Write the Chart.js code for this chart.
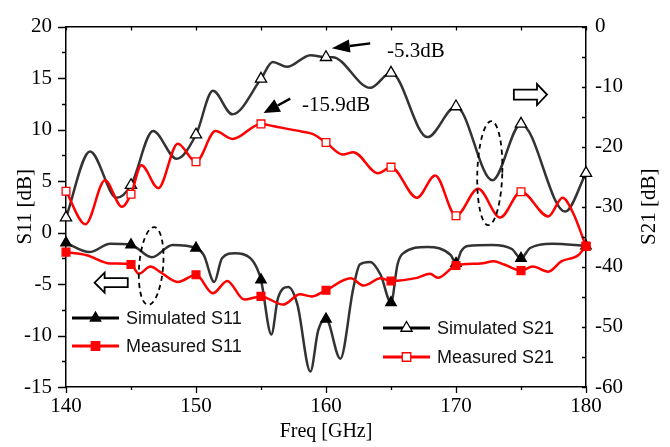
<!DOCTYPE html>
<html>
<head>
<meta charset="utf-8">
<script src="https://cdn.jsdelivr.net/npm/chart.js@4.4.1/dist/chart.umd.min.js"></script>
<style>
  html, body { margin: 0; padding: 0; background: #fff; }
  #wrap { width: 670px; height: 447px; }
</style>
</head>
<body>
<div id="wrap"><canvas id="c" width="670" height="447"></canvas></div>
<script>
// tick positions
const freqTicks = [140, 145, 150, 155, 160, 165, 170, 175, 180];
const s11Ticks = [-15, -12.5, -10, -7.5, -5, -2.5, 0, 2.5, 5, 7.5, 10, 12.5, 15, 17.5, 20];
const s21Ticks = [-60, -55, -50, -45, -40, -35, -30, -25, -20, -15, -10, -5, 0];

// Simulated S11 (left axis, dB)
const simS11Freq = [140, 141.8, 143.4, 145, 146.6, 148.2, 150, 150.6, 151.4, 152.0, 153.0, 154.2, 154.7, 155,
  155.8, 156.3, 157.1, 157.8, 158.8, 159.4, 160, 161.1, 162.1, 162.6, 163.4, 164.2, 165, 165.5, 165.9,
  167.8, 169.6, 170, 170.4, 170.9, 172.8, 174.3, 175, 175.7, 177.4, 180];
const simS11 = [-1.0, -1.9, -1.1, -1.2, -2.4, -1.2, -1.5, -2.2, -4.8, -2.5, -2.0, -2.5, -3.5, -4.6,
  -9.9, -6.4, -5.3, -7.0, -13.5, -9.5, -8.4, -12.25, -5.4, -3.1, -2.85, -4.1, -6.8, -3.1, -2.05,
  -1.4, -2.2, -3.0, -1.8, -1.3, -1.2, -1.6, -2.5, -1.5, -1.1, -1.3];

// Measured S11 (left axis, dB)
const measS11Freq = [140, 141.6, 143.4, 145, 145.6, 146.5, 147.2, 148.6, 150, 151.3, 152.4, 153.7, 155,
  156.7, 158, 158.9, 160, 161.9, 162.9, 164.2, 165, 167, 168, 168.6, 170, 171.9, 172.9, 173.7, 175,
  175.9, 177.1, 178.1, 179.4, 180];
const measS11 = [-1.9, -2.2, -3.0, -3.1, -4.0, -3.3, -3.8, -4.8, -4.1, -5.9, -4.7, -6.5, -6.2,
  -7.0, -6.0, -6.2, -5.6, -4.45, -5.15, -4.45, -4.7, -4.4, -4.0, -4.4, -3.2, -3.0, -2.8, -3.1, -3.7,
  -3.3, -3.8, -2.8, -2.2, -1.3];

// Simulated S21 (right axis, dB)
const simS21Freq = [140, 141.85, 143.9, 145, 146.7, 148.5, 150, 151.3, 152.8, 155, 155.9, 157, 158.8,
  160, 160.5, 163.4, 165, 167.8, 170, 172.8, 175, 178.4, 180];
const simS21 = [-31.8, -20.8, -28.5, -26.4, -17.4, -22.0, -18.0, -10.7, -14.6, -8.7, -5.9, -6.7, -4.75,
  -5.1, -5.1, -10.2, -7.7, -18.4, -13.3, -25.6, -16.2, -30.8, -24.4];

// Measured S21 (right axis, dB)
const measS21Freq = [140, 141.5, 143, 144.3, 145, 145.8, 147.1, 148.6, 150, 151.5, 152.8, 155, 156,
  158.2, 159, 160, 161.3, 162.1, 164, 165, 167, 168.4, 170, 171.7, 173.4, 175, 177.1, 178.2, 179, 180];
const measS21 = [-27.4, -32.9, -25.6, -30.0, -27.9, -23.1, -26.9, -19.5, -22.5, -17.4, -18.7, -16.2, -16.6,
  -17.5, -17.9, -19.3, -21.3, -20.9, -24.4, -23.4, -28.5, -24.8, -31.5, -27.0, -31.8, -27.5, -31.6, -28.5, -31.0, -36.6];

const BLACK = '#333333';
const RED = '#ff0000';
const SERIF = '"Liberation Serif", "Times New Roman", serif';
const SANS = '"Liberation Sans", Arial, sans-serif';

function pts(xs, ys) {
  return xs.map((x, i) => ({ x: x, y: ys[i] }));
}

// markers only every 5 GHz
const markerRadius = r => ctx => (ctx.raw && Math.abs(ctx.raw.x % 5) < 1e-6 ? r : 0);

function series(label, xs, ys, axis, color, style, fill, r) {
  return {
    label: label,
    data: pts(xs, ys),
    yAxisID: axis,
    borderColor: color,
    borderWidth: 2.5,
    pointStyle: style,
    pointBackgroundColor: fill,
    pointBorderColor: color === BLACK ? '#000' : color,
    pointBorderWidth: 1.3,
    pointRadius: markerRadius(r),
    pointHoverRadius: markerRadius(r),
    cubicInterpolationMode: 'monotone',
    fill: false,
    clip: false
  };
}

function marker(c, style, x, y, r, fill, stroke) {
  c.beginPath();
  if (style === 'triangle') {
    for (let k = 0; k < 3; k++) {
      const ang = k * 2 * Math.PI / 3;
      const px = x + Math.sin(ang) * r, py = y - Math.cos(ang) * r;
      if (k === 0) c.moveTo(px, py); else c.lineTo(px, py);
    }
    c.closePath();
  } else {
    const s = r * Math.SQRT1_2;
    c.rect(x - s, y - s, 2 * s, 2 * s);
  }
  c.fillStyle = fill; c.fill();
  c.lineWidth = 1.3; c.strokeStyle = stroke; c.stroke();
}

function filledArrow(c, tx, ty, fx, fy, len, half) {
  const ang = Math.atan2(ty - fy, tx - fx);
  const bx = tx - Math.cos(ang) * len, by = ty - Math.sin(ang) * len;
  c.lineWidth = 2.5; c.strokeStyle = '#000';
  c.beginPath(); c.moveTo(fx, fy); c.lineTo(bx, by); c.stroke();
  c.beginPath();
  c.moveTo(tx, ty);
  c.lineTo(bx + Math.sin(ang) * half, by - Math.cos(ang) * half);
  c.lineTo(bx - Math.sin(ang) * half, by + Math.cos(ang) * half);
  c.closePath();
  c.fillStyle = '#000'; c.fill();
}

function hollowArrow(c, tail, tip, cy, shaft, head) {
  const dir = tip > tail ? 1 : -1;
  const hb = tip - dir * 10;
  c.beginPath();
  c.moveTo(tail, cy - shaft); c.lineTo(hb, cy - shaft); c.lineTo(hb, cy - head);
  c.lineTo(tip, cy); c.lineTo(hb, cy + head); c.lineTo(hb, cy + shaft); c.lineTo(tail, cy + shaft);
  c.closePath();
  c.fillStyle = '#fff'; c.fill();
  c.lineWidth = 1.8; c.strokeStyle = '#000'; c.stroke();
}

const decorations = {
  id: 'decorations',
  afterDraw(chart) {
    const c = chart.ctx, a = chart.chartArea;
    const sx = chart.scales.x, sy = chart.scales.y, sy2 = chart.scales.y2;
    c.save();

    // tick marks
    c.strokeStyle = '#000'; c.lineWidth = 1.3;
    c.beginPath();
    s11Ticks.forEach(v => {
      const py = Math.round(sy.getPixelForValue(v)) + 0.5;
      const len = v % 5 === 0 ? 8 : 4;
      c.moveTo(a.left - len, py); c.lineTo(a.left, py);
    });
    s21Ticks.forEach(v => {
      const py = Math.round(sy2.getPixelForValue(v)) + 0.5;
      c.moveTo(a.right - 4, py); c.lineTo(a.right, py);
    });
    freqTicks.forEach(v => {
      const px = Math.round(sx.getPixelForValue(v)) + 0.5;
      const len = v % 10 === 0 ? 6 : 3;
      c.moveTo(px, a.bottom); c.lineTo(px, a.bottom + len);
      c.moveTo(px, a.top); c.lineTo(px, a.top + 4);
    });
    c.stroke();

    // vertical axis titles
    c.fillStyle = '#000';
    c.font = '21px ' + SERIF;
    c.textAlign = 'center'; c.textBaseline = 'alphabetic';
    const midY = (a.top + a.bottom) / 2;
    [['S11 [dB]', 31], ['S21 [dB]', 655]].forEach(([t, bx]) => {
      c.save(); c.translate(bx, midY); c.rotate(-Math.PI / 2); c.fillText(t, 0, 0); c.restore();
    });

    // dashed ellipses
    c.setLineDash([5, 4]); c.lineWidth = 1.8; c.strokeStyle = '#000';
    c.beginPath();
    c.ellipse(sx.getPixelForValue(146.55), sy.getPixelForValue(-3.25), 12, 39, 0.08, 0, 2 * Math.PI);
    c.stroke();
    c.beginPath();
    c.ellipse(sx.getPixelForValue(172.6), sy2.getPixelForValue(-24.4), 12.5, 52, 0.03, 0, 2 * Math.PI);
    c.stroke();
    c.setLineDash([]);

    // arrows
    filledArrow(c, sx.getPixelForValue(160.45), sy.getPixelForValue(17.9),
      sx.getPixelForValue(163.4), sy.getPixelForValue(18.37), 18, 6.5);
    filledArrow(c, sx.getPixelForValue(155.2), sy.getPixelForValue(11.6),
      sx.getPixelForValue(157.25), sy.getPixelForValue(13.0), 16, 7);
    hollowArrow(c, sx.getPixelForValue(174.45), sx.getPixelForValue(177.0), sy.getPixelForValue(13.4), 5, 10.5);
    hollowArrow(c, sx.getPixelForValue(144.75), sx.getPixelForValue(142.2), sy.getPixelForValue(-4.87), 4.5, 10);

    // annotation text
    c.fillStyle = '#000';
    c.font = '21px ' + SERIF;
    c.textAlign = 'left'; c.textBaseline = 'alphabetic';
    c.fillText('-5.3dB', sx.getPixelForValue(164.7), sy.getPixelForValue(17.05));
    c.fillText('-15.9dB', sx.getPixelForValue(158.15), sy.getPixelForValue(11.8));

    // legends
    const items = [
      ['Simulated S11', 72, 119, 318, '#000', 'triangle', '#000', 6],
      ['Measured S11', 72, 119, 346, RED, 'rect', RED, 6],
      ['Simulated S21', 383, 430, 328, '#000', 'triangle', '#fff', 6.5],
      ['Measured S21', 383, 430, 357, RED, 'rect', '#fff', 6]
    ];
    c.font = '18px ' + SANS;
    items.forEach(([t, x0, x1, ly, col, st, fillc, r]) => {
      c.strokeStyle = col; c.lineWidth = 3;
      c.beginPath(); c.moveTo(x0, ly); c.lineTo(x1, ly); c.stroke();
      marker(c, st, (x0 + x1) / 2, ly, r, fillc, col);
      c.fillStyle = '#111';
      c.textBaseline = 'middle';
      c.fillText(t, x1 + 7, ly + 1);
    });
    c.restore();
  }
};

const tickFont = { family: SERIF, size: 21 };
const axisBorder = { display: true, color: '#000', width: 1.5 };

new Chart(document.getElementById('c'), {
  type: 'line',
  data: {
    datasets: [
      series('Measured S11', measS11Freq, measS11, 'y', RED, 'rect', RED, 5.5),
      series('Measured S21', measS21Freq, measS21, 'y2', RED, 'rect', '#fff', 5.5),
      series('Simulated S11', simS11Freq, simS11, 'y', BLACK, 'triangle', '#000', 6),
      series('Simulated S21', simS21Freq, simS21, 'y2', BLACK, 'triangle', '#fff', 6.5)
    ]
  },
  options: {
    responsive: false,
    animation: false,
    events: [],
    layout: { padding: { top: 21, left: 0, right: 0, bottom: 0 } },
    plugins: { legend: { display: false }, tooltip: { enabled: false } },
    scales: {
      x: {
        type: 'linear', position: 'bottom', min: 140, max: 180,
        ticks: { stepSize: 10, font: tickFont, color: '#000', padding: 7, maxRotation: 0 },
        grid: { display: false, drawTicks: false },
        border: axisBorder,
        title: { display: true, text: 'Freq [GHz]', font: { family: SERIF, size: 20 }, color: '#000', padding: { top: 0, bottom: 3 } },
        afterFit: s => { s.height = 60; }
      },
      xTop: {
        type: 'linear', position: 'top', min: 140, max: 180,
        ticks: { display: false },
        grid: { display: false, drawTicks: false },
        border: axisBorder,
        afterFit: s => { s.height = 0; }
      },
      y: {
        position: 'left', min: -15, max: 20,
        ticks: { stepSize: 5, font: tickFont, color: '#000', padding: 14 },
        grid: { display: false, drawTicks: false },
        border: axisBorder,
        afterFit: s => { s.width = 66; }
      },
      y2: {
        position: 'right', min: -60, max: 0,
        ticks: { stepSize: 10, font: tickFont, color: '#000', padding: 9 },
        grid: { display: false, drawTicks: false },
        border: axisBorder,
        afterFit: s => { s.width = 84; }
      }
    }
  },
  plugins: [decorations]
});
</script>
</body>
</html>
